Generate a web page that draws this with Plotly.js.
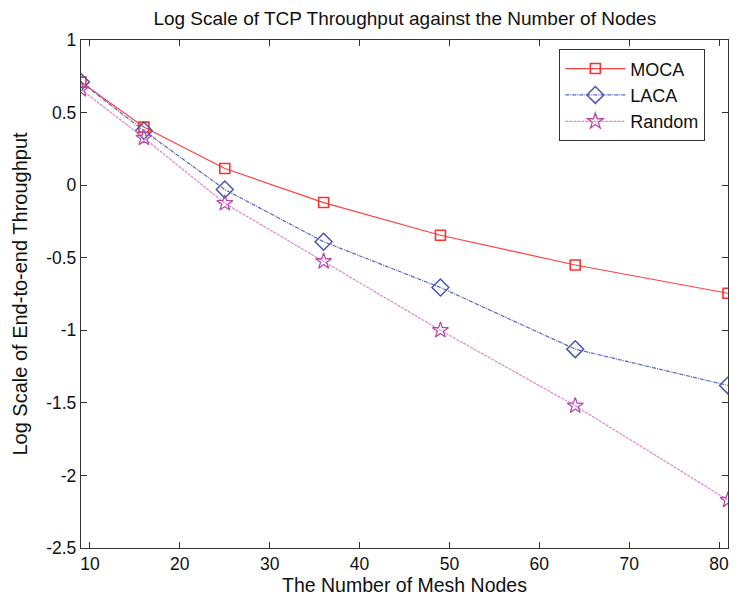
<!DOCTYPE html>
<html>
<head>
<meta charset="utf-8">
<script src="https://cdn.plot.ly/plotly-3.0.1.min.js"></script>
<style>html,body{margin:0;padding:0;background:#fff;}#chart{width:740px;height:599px;}</style>
</head>
<body>
<div id="chart"></div>
<script>
const nodes = [9, 16, 25, 36, 49, 64, 81];
const moca = [0.71, 0.40, 0.115, -0.12, -0.345, -0.55, -0.745];
const laca = [0.71, 0.375, -0.03, -0.39, -0.705, -1.13, -1.38];
const random = [0.66, 0.325, -0.125, -0.525, -1.0, -1.52, -2.17];
const xTicks = [10, 20, 30, 40, 50, 60, 70, 80];
const yTicks = [-2.5, -2, -1.5, -1, -0.5, 0, 0.5, 1];
const yTickText = ['-2.5', '-2', '-1.5', '-1', '-0.5', '0', '0.5', '1'];

const font = {family: 'Liberation Sans, Arial, sans-serif', color: '#111'};

const traces = [
  {x: nodes, y: moca, name: 'MOCA', mode: 'lines+markers',
   line: {color: '#ff4040', width: 1.2, dash: 'solid'},
   marker: {symbol: 'square-open', size: 10, color: '#ff3030', line: {width: 1.6}}},
  {x: nodes, y: laca, name: 'LACA', mode: 'lines+markers',
   line: {color: '#5a64c0', width: 1.2, dash: '4px,1px,1px,1px'},
   marker: {symbol: 'diamond-open', size: 13, color: '#4a55b5', line: {width: 1.5}}},
  {x: nodes, y: random, name: 'Random', mode: 'lines+markers',
   line: {color: '#dd88cc', width: 1.2, dash: '3px,1px'},
   marker: {symbol: 'star-open', size: 12, color: '#b84aa8', line: {width: 1.3}}}
];

const axisCommon = {
  showgrid: false, zeroline: false, showline: true, mirror: 'ticks',
  linecolor: '#333', linewidth: 1.2, ticks: 'inside', ticklen: 6, tickcolor: '#333',
  tickfont: Object.assign({size: 17.5}, font)
};

const layout = {
  width: 740, height: 599,
  margin: {l: 81, r: 12, t: 40, b: 51},
  paper_bgcolor: '#fff', plot_bgcolor: '#fff',
  title: {text: 'Log Scale of TCP Throughput against the Number of Nodes',
          font: Object.assign({size: 19}, font), x: 0.547, xanchor: 'center', y: 0.97, yanchor: 'middle'},
  xaxis: Object.assign({}, axisCommon, {
    range: [9, 81], tickvals: xTicks, ticktext: xTicks.map(String),
    title: {text: 'The Number of Mesh Nodes', font: Object.assign({size: 19.5}, font), standoff: 5}
  }),
  yaxis: Object.assign({}, axisCommon, {
    range: [-2.5, 1], tickvals: yTicks, ticktext: yTickText,
    title: {text: 'Log Scale of End-to-end Throughput', font: Object.assign({size: 20}, font), standoff: 13}
  }),
  showlegend: true,
  legend: {x: 0.739, y: 0.982, xanchor: 'left', yanchor: 'top',
           bgcolor: '#fff', bordercolor: '#333', borderwidth: 1.2,
           font: Object.assign({size: 18}, font), itemwidth: 60, tracegroupgap: 0}
};

Plotly.newPlot('chart', traces, layout, {displayModeBar: false, staticPlot: true});
</script>
</body>
</html>
